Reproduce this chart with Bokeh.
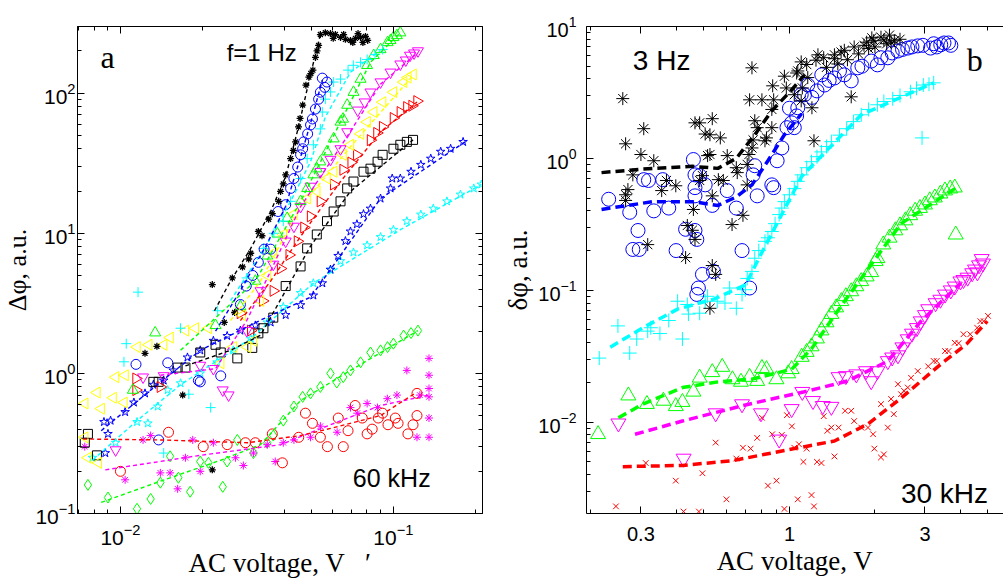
import math
from bokeh.plotting import figure
from bokeh.layouts import row
from bokeh.models import Range1d, FixedTicker, LogAxis, Label, CustomJSTickFormatter
from bokeh.embed import file_html
from bokeh.resources import INLINE

# ======================= PANEL a data (AC voltage V, delta phi a.u.) =======================
a_tick_x = [0.01, 0.1]
a_tick_y = [0.1, 1, 10, 100]

# black asterisks, f = 1 Hz
a_k_v = [0.0123, 0.0136, 0.0169, 0.0217, 0.0217, 0.0240, 0.0262, 0.0257, 0.0280, 0.0295,
         0.0320, 0.0349, 0.0380, 0.0386, 0.0403, 0.0420, 0.0438, 0.0449, 0.0465, 0.0478,
         0.0490, 0.0507, 0.0518, 0.0532, 0.0540, 0.0563, 0.0588, 0.0613, 0.0640, 0.0667,
         0.0696, 0.0726, 0.0758, 0.0790, 0.0805, 0.0602, 0.0657, 0.0710, 0.0742, 0.0773,
         0.0300, 0.0330, 0.0360, 0.0395, 0.0430, 0.0455, 0.0498, 0.0525]
a_k_d = [1.39, 1.56, 0.70, 0.205, 4.3, 2.31, 2.72, 4.8, 5.75, 6.55,
         10.3, 12.6, 16.9, 19.9, 26.1, 34.1, 44.9, 57.4, 82.2, 114,
         130, 146, 180, 219, 262, 270, 266, 262, 250, 242,
         238, 246, 250, 254, 238, 246, 262, 230, 266, 230,
         7.2, 9.6, 13.8, 22.5, 39, 66, 138, 200]
a_k_fit_v = [0.0221, 0.0253, 0.0299, 0.0355, 0.0403, 0.0449, 0.0497, 0.0540]
a_k_fit_d = [2.8, 4.56, 7.7, 14.3, 25.4, 57.4, 136, 262]

# blue circles
a_bo_v = [0.0114, 0.0138, 0.0149, 0.0193, 0.0196, 0.0233, 0.0275, 0.0289, 0.0336, 0.0355,
          0.0378, 0.0403, 0.0420, 0.0432, 0.0446, 0.0457, 0.0465, 0.0469, 0.0485, 0.0497,
          0.0505, 0.0518, 0.0532, 0.0540, 0.0549, 0.0571, 0.0560, 0.0305, 0.0320]
a_bo_d = [1.16, 0.335, 1.19, 0.89, 0.87, 0.96, 3.1, 4.2, 7.7, 7.7,
          14.3, 16.0, 20.9, 24.6, 29.7, 36.3, 40.1, 44.9, 51.2, 59.3,
          65.4, 77, 90.6, 101.6, 128, 120, 110, 5.0, 6.2]
a_bo_fit_v = [0.0223, 0.0275, 0.0341, 0.0403, 0.0457, 0.0505, 0.0549]
a_bo_fit_d = [2.0, 3.9, 8.1, 15.6, 35, 68, 124]

# cyan plus
a_cp_v = [0.0103, 0.0105, 0.0116, 0.0144, 0.0166, 0.0178, 0.0214, 0.0227, 0.0334, 0.0395,
          0.0420, 0.0457, 0.0483, 0.0509, 0.0540, 0.0549, 0.0563, 0.0588, 0.0604, 0.0640,
          0.0682, 0.0713, 0.0758, 0.0801, 0.0856, 0.0913, 0.0290, 0.0365]
a_cp_d = [1.21, 1.63, 3.8, 0.27, 2.1, 0.71, 0.57, 2.8, 7.8, 12.2,
          16.9, 24.6, 34.1, 42.8, 55.6, 73.3, 90.6, 102, 120, 126,
          146, 158, 166, 174, 189, 205, 4.8, 10.0]
a_cp_fit_v = [0.0253, 0.0341, 0.0420, 0.0497, 0.0563, 0.0696, 0.0897]
a_cp_fit_d = [3.3, 8.1, 16.9, 32.4, 67.5, 141, 202]

# green up-triangles
a_gt_v = [0.0111, 0.0134, 0.0223, 0.0275, 0.0312, 0.0345, 0.0376, 0.0408, 0.0457, 0.0483,
          0.0509, 0.0524, 0.0540, 0.0571, 0.0604, 0.0640, 0.0654, 0.0677, 0.0714, 0.0758,
          0.0801, 0.0847, 0.0897, 0.0952, 0.1000, 0.1060, 0.1030, 0.0976]
a_gt_d = [0.76, 1.95, 2.2, 3.0, 4.56, 6.9, 9.9, 12.8, 16.9, 20.9,
          26.2, 28.9, 32.4, 38.2, 47.3, 62.3, 65.4, 82.2, 101.6, 126,
          158, 186, 205, 230, 250, 270, 258, 238]
a_gt_fit_v = [0.0166, 0.0312, 0.0457, 0.0640, 0.0824, 0.1060]
a_gt_fit_d = [1.46, 4.56, 16.9, 62.3, 166, 270]

# magenta down-triangles
a_mt_v = [0.0096, 0.0121, 0.0144, 0.0196, 0.0219, 0.0237, 0.0249, 0.0290, 0.0326, 0.0363,
          0.0403, 0.0432, 0.0457, 0.0497, 0.0540, 0.0588, 0.0640, 0.0677, 0.0740, 0.0785,
          0.0824, 0.0897, 0.0976, 0.1060, 0.1150, 0.1230, 0.1110, 0.1190]
a_mt_d = [0.284, 0.94, 0.96, 1.14, 1.08, 0.76, 0.70, 2.02, 3.88, 6.0,
          8.77, 11.2, 15.5, 21.6, 27.5, 33.6, 40.0, 52.9, 75.5, 86.3,
          101.6, 120, 141, 161, 186, 200, 172, 193]
a_mt_fit_v = [0.0140, 0.0223, 0.0290, 0.0355, 0.0457, 0.0640, 0.0897, 0.1230]
a_mt_fit_d = [0.97, 1.08, 2.38, 5.37, 15.5, 41.4, 116, 195]

# yellow left-triangles
a_yt_v = [0.0074, 0.0076, 0.0074, 0.0082, 0.0083, 0.0085, 0.0094, 0.0103, 0.0096, 0.0104,
          0.0115, 0.0127, 0.0144, 0.0152, 0.0173, 0.0188, 0.0210, 0.0233, 0.0259, 0.0292,
          0.0307, 0.0326, 0.0363, 0.0395, 0.0432, 0.0483, 0.0524, 0.0571, 0.0604, 0.0654,
          0.0696, 0.0758, 0.0801, 0.0847, 0.0913, 0.1000, 0.1090, 0.1180, 0.1130, 0.0345, 0.0280]
a_yt_d = [0.61, 0.25, 0.35, 0.73, 0.23, 0.56, 0.67, 0.62, 0.94, 0.97,
          1.54, 1.6, 1.6, 1.8, 2.02, 2.1, 2.1, 1.18, 1.54, 1.54,
          1.71, 3.29, 7.2, 9.8, 13.7, 17.7, 19.9, 24.6, 27.5, 36.3,
          42.8, 51.2, 62.3, 73.3, 86.3, 101.6, 120, 136, 129, 5.0, 2.6]
a_yt_fit_v = [0.0253, 0.0326, 0.0457, 0.0696, 0.1180]
a_yt_fit_d = [2.38, 4.56, 15.5, 41.4, 134]

# red right-triangles
a_rt_v = [0.0114, 0.0114, 0.0140, 0.0275, 0.0300, 0.0332, 0.0363, 0.0386, 0.0445, 0.0497,
          0.0540, 0.0604, 0.0654, 0.0734, 0.0824, 0.0913, 0.1000, 0.1060, 0.1120, 0.1220,
          0.1170, 0.0415, 0.0470, 0.0700, 0.0870]
a_rt_d = [0.92, 0.76, 0.80, 2.69, 2.02, 3.29, 3.88, 5.6, 8.77, 13.2,
          16.9, 22.3, 28.4, 36.3, 46.2, 57.4, 66.5, 73.3, 79.5, 87.7,
          81.3, 7.0, 11.0, 32, 52]
a_rt_fit_v = [0.0275, 0.0355, 0.0457, 0.0640, 0.0897, 0.1220]
a_rt_fit_d = [2.38, 4.56, 9.5, 23.4, 52.9, 86.3]

# black squares
a_ks_v = [0.0076, 0.0074, 0.0082, 0.0132, 0.0138, 0.0162, 0.0173, 0.0196, 0.0223, 0.0233,
          0.0268, 0.0304, 0.0320, 0.0334, 0.0363, 0.0403, 0.0457, 0.0483, 0.0524, 0.0571,
          0.0604, 0.0640, 0.0677, 0.0714, 0.0777, 0.0824, 0.0875, 0.0913, 0.1000, 0.1060,
          0.1120, 0.1180]
a_ks_d = [0.37, 0.32, 0.26, 0.87, 0.87, 1.1, 1.1, 1.41, 1.6, 1.41,
          1.28, 1.52, 1.93, 2.1, 2.5, 4.2, 5.8, 7.8, 9.8, 12.2,
          14.3, 16.9, 20.9, 23.4, 27.5, 28.9, 32.4, 36.3, 40.1, 42.8,
          44.9, 46.4]
a_ks_fit_v = [0.0173, 0.0253, 0.0326, 0.0403, 0.0497, 0.0696, 0.1180]
a_ks_fit_d = [1.13, 1.46, 1.87, 3.9, 8.1, 19.9, 46.4]

# blue pentagrams
a_bs_v = [0.0088, 0.0087, 0.0090, 0.0092, 0.0104, 0.0112, 0.0123, 0.0132, 0.0144, 0.0156,
          0.0176, 0.0196, 0.0219, 0.0246, 0.0275, 0.0312, 0.0355, 0.0403, 0.0457, 0.0509,
          0.0549, 0.0588, 0.0627, 0.0667, 0.0696, 0.0735, 0.0777, 0.0824, 0.0897, 0.0976,
          0.0990, 0.1060, 0.1160, 0.1260, 0.1370, 0.1490, 0.1620, 0.1800]
a_bs_d = [0.27, 0.45, 0.37, 0.46, 0.53, 0.62, 0.72, 0.83, 0.89, 1.05,
          1.30, 1.46, 1.71, 1.85, 2.02, 2.2, 2.31, 2.61, 3.07, 3.6,
          4.4, 5.5, 6.9, 8.8, 10.3, 11.6, 13.7, 15.0, 17.7, 20.9,
          24.6, 24.6, 27.5, 30.8, 34.1, 38.2, 40.1, 44.9]
a_bs_fit_v = [0.0085, 0.0129, 0.0196, 0.0326, 0.0497, 0.0588, 0.0897, 0.1830]
a_bs_fit_d = [0.39, 0.76, 1.46, 2.4, 3.5, 5.5, 17.7, 44.9]

# cyan hexagrams
a_ch_v = [0.0079, 0.0096, 0.0115, 0.0126, 0.0137, 0.0149, 0.0166, 0.0196, 0.0226, 0.0259,
          0.0300, 0.0345, 0.0395, 0.0457, 0.0509, 0.0588, 0.0640, 0.0714, 0.0801, 0.0897,
          0.1000, 0.1120, 0.1260, 0.1400, 0.1570, 0.1760, 0.1970, 0.2100]
a_ch_d = [0.25, 0.32, 0.45, 0.44, 0.58, 0.76, 0.85, 1.0, 1.2, 1.46,
          1.77, 2.31, 2.98, 3.75, 4.4, 5.5, 6.33, 7.3, 8.2, 9.4,
          10.6, 12.2, 13.6, 15.0, 16.9, 18.9, 20.9, 22.3]
a_ch_fit_v = [0.0079, 0.0115, 0.0166, 0.0300, 0.0509, 0.1060, 0.2100]
a_ch_fit_d = [0.24, 0.46, 0.83, 1.77, 4.4, 10.6, 22.3]

# green diamonds (60 kHz group)
a_gd_v = [0.0076, 0.0090, 0.0115, 0.0129, 0.0140, 0.0152, 0.0163, 0.0180, 0.0196, 0.0210,
          0.0237, 0.0246, 0.0268, 0.0307, 0.0345, 0.0363, 0.0395, 0.0432, 0.0465, 0.0497,
          0.0540, 0.0588, 0.0620, 0.0655, 0.0696, 0.0758, 0.0824, 0.0897, 0.0952, 0.1000,
          0.1090, 0.1160, 0.1230]
a_gd_d = [0.16, 0.13, 0.108, 0.127, 0.166, 0.256, 0.18, 0.143, 0.235, 0.23,
          0.155, 0.235, 0.335, 0.27, 0.32, 0.36, 0.46, 0.58, 0.68, 0.72,
          0.8, 1.0, 0.86, 0.94, 1.05, 1.2, 1.41, 1.46, 1.54, 1.63,
          1.86, 1.94, 2.02]
a_gd_fit_v = [0.0085, 0.0140, 0.0233, 0.0326, 0.0457, 0.0696, 0.1230]
a_gd_fit_d = [0.12, 0.17, 0.24, 0.31, 0.64, 1.05, 2.02]

# magenta asterisks
a_ma_v = [0.0074, 0.0104, 0.0121, 0.0129, 0.0140, 0.0152, 0.0162, 0.0173, 0.0184, 0.0196,
          0.0219, 0.0264, 0.0282, 0.0307, 0.0345, 0.0369, 0.0395, 0.0432, 0.0497, 0.0540,
          0.0622, 0.0696, 0.0737, 0.0801, 0.0874, 0.0950, 0.1030, 0.1120, 0.1220, 0.1250,
          0.1350, 0.1350, 0.1350, 0.1350, 0.1350, 0.1350]
a_ma_d = [0.30, 0.174, 0.335, 0.36, 0.195, 0.195, 0.15, 0.25, 0.335, 0.20,
          0.32, 0.25, 0.22, 0.27, 0.31, 0.235, 0.32, 0.335, 0.35, 0.42,
          0.38, 0.57, 0.52, 0.61, 0.57, 0.66, 0.70, 1.05, 0.35, 0.70,
          1.28, 0.97, 0.78, 0.68, 0.48, 0.35]
a_ma_fit_v = [0.0088, 0.0196, 0.0386, 0.0588, 0.0897, 0.1350]
a_ma_fit_d = [0.205, 0.26, 0.31, 0.43, 0.59, 0.70]

# red circles
a_ro_v = [0.0100, 0.0150, 0.0201, 0.0246, 0.0287, 0.0312, 0.0360, 0.0392, 0.0450, 0.0476,
          0.0505, 0.0540, 0.0573, 0.0628, 0.0655, 0.0682, 0.0724, 0.0769, 0.0801, 0.0836,
          0.0880, 0.0913, 0.0955, 0.1016, 0.1040, 0.1130, 0.1180, 0.1220, 0.1220]
a_ro_d = [0.20, 0.38, 0.30, 0.31, 0.32, 0.32, 0.37, 0.23, 0.35, 0.52,
          0.44, 0.35, 0.30, 0.48, 0.30, 0.39, 0.59, 0.48, 0.37, 0.40,
          0.48, 0.52, 0.43, 0.48, 0.44, 0.37, 0.43, 0.50, 0.72]
a_ro_fit_v = [0.0073, 0.0140, 0.0292, 0.0457, 0.0604, 0.0897, 0.1090, 0.1200]
a_ro_fit_d = [0.34, 0.335, 0.32, 0.36, 0.41, 0.50, 0.64, 0.72]

# ======================= PANEL b data (AC voltage V, delta-phi noise a.u.) =======================
b_tick_x = [0.3, 1, 3]
b_tick_y = [0.01, 0.1, 1, 10]

# black asterisks, 3 Hz
b_ka_v = [0.259, 0.307, 0.265, 0.300, 0.333, 0.270, 0.265, 0.265, 0.317, 0.431,
          0.369, 0.355, 0.398, 0.465, 0.483, 0.535, 0.505, 0.525, 0.571, 0.525,
          0.515, 0.604, 0.562, 0.585, 0.650, 0.655, 0.710, 0.720, 0.738, 0.745,
          0.770, 0.755, 0.820, 0.830, 0.867, 0.867, 0.873, 0.738, 0.724, 0.800,
          0.880, 0.960, 0.975, 1.06, 1.11, 0.710, 0.535, 0.483, 0.494, 0.459,
          0.455, 0.437, 0.465, 0.628, 0.686, 0.535, 0.550, 1.22, 1.65, 1.07,
          1.15, 1.24, 1.32, 1.44, 1.56, 1.69, 1.83, 1.98, 2.15, 2.34,
          1.04, 1.10, 1.20, 1.10, 1.26, 1.44, 1.52, 1.87, 2.10, 2.28,
          0.281, 0.525, 1.35, 1.60, 1.75, 1.90, 2.00, 2.20, 1.48, 1.16,
          2.45, 2.25, 1.95]
b_ka_d = [2.84, 1.68, 1.29, 1.07, 0.96, 0.58, 0.53, 0.48, 0.222, 0.177,
          0.68, 0.57, 0.62, 1.86, 1.86, 2.0, 1.53, 1.51, 1.43, 1.07,
          1.05, 1.05, 0.69, 0.68, 0.85, 0.78, 0.90, 1.07, 1.20, 1.38,
          1.71, 1.93, 1.36, 1.43, 1.71, 2.35, 3.55, 4.86, 2.78, 2.78,
          2.78, 4.2, 3.42, 4.44, 3.42, 0.63, 0.52, 0.68, 0.74, 0.41,
          0.285, 0.31, 0.243, 0.315, 0.37, 0.154, 0.132, 1.36, 2.93, 4.6,
          5.15, 5.55, 5.8, 6.1, 6.6, 7.0, 7.2, 7.8, 7.9, 7.8,
          3.04, 2.73, 2.42, 5.39, 6.1, 5.7, 6.4, 7.6, 8.3, 7.6,
          0.75, 0.073, 4.9, 5.6, 6.2, 6.8, 7.0, 7.4, 5.2, 4.1,
          8.0, 8.6, 8.2]
b_ka_fit_v = [0.218, 0.305, 0.455, 0.560, 0.650, 0.755, 0.867, 1.018, 1.13]
b_ka_fit_d = [0.78, 0.83, 0.87, 0.84, 1.0, 1.51, 2.3, 3.3, 4.3]

# blue circles
b_bo_v = [0.231, 0.274, 0.333, 0.293, 0.281, 0.296, 0.307, 0.319, 0.358, 0.376,
          0.399, 0.431, 0.465, 0.472, 0.459, 0.465, 0.483, 0.465, 0.465, 0.505,
          0.535, 0.604, 0.650, 0.681, 0.755, 0.745, 0.770, 0.867, 0.880, 0.905,
          0.940, 0.980, 1.018, 1.04, 1.07, 0.494, 0.478, 0.472, 0.724, 0.540,
          1.10, 1.13, 1.16, 1.25, 1.30, 1.33, 1.44, 1.56, 1.65, 1.74,
          1.94, 2.04, 2.22, 2.41, 2.61, 2.83, 3.14, 3.41, 3.63, 3.22,
          1.20, 1.38, 1.50, 1.80, 2.10, 2.30, 2.50, 2.70, 2.95, 3.30,
          3.50, 3.70, 1.06, 1.00]
b_bo_d = [0.49, 0.39, 0.40, 0.284, 0.204, 0.204, 0.69, 0.68, 0.69, 0.42,
          0.20, 0.29, 0.284, 0.243, 0.98, 0.75, 0.74, 0.60, 0.52, 0.63,
          0.44, 0.57, 0.42, 0.20, 0.88, 0.75, 0.52, 0.63, 0.60, 0.96,
          1.2, 1.71, 1.86, 1.71, 2.42, 0.132, 0.104, 0.093, 0.104, 0.139,
          3.04, 3.04, 3.6, 3.25, 4.3, 3.6, 4.07, 4.3, 3.87, 4.86,
          5.47, 5.12, 5.79, 6.52, 6.86, 7.13, 6.86, 7.27, 7.5, 7.4,
          2.9, 3.9, 4.6, 5.0, 5.8, 6.3, 6.7, 7.0, 7.2, 7.0,
          7.5, 7.2, 2.1, 2.4]
b_bo_fit_v = [0.218, 0.330, 0.455, 0.560, 0.650, 0.738, 0.840, 0.960, 1.104]
b_bo_fit_d = [0.41, 0.47, 0.47, 0.44, 0.51, 0.63, 0.96, 1.51, 2.18]

# cyan plus
b_cp_v = [0.214, 0.249, 0.274, 0.290, 0.317, 0.325, 0.350, 0.376, 0.420, 0.404,
          0.437, 0.441, 0.483, 0.505, 0.515, 0.557, 0.593, 0.616, 0.650, 0.681,
          0.700, 0.710, 0.738, 0.755, 0.820, 0.867, 0.920, 0.960, 1.04, 1.104,
          1.196, 1.296, 1.405, 1.59, 1.79, 2.04, 2.31, 2.67, 2.96, 3.22,
          2.93, 0.78, 0.84, 0.89, 0.94, 1.00, 1.07, 1.15, 1.25, 1.35,
          1.50, 1.68, 1.90, 2.15, 2.45, 2.80, 3.10]
b_cp_d = [0.0306, 0.0537, 0.0334, 0.0427, 0.049, 0.052, 0.047, 0.059, 0.0427, 0.0826,
          0.078, 0.066, 0.067, 0.0826, 0.09, 0.0826, 0.080, 0.104, 0.073, 0.093,
          0.101, 0.123, 0.139, 0.175, 0.235, 0.279, 0.375, 0.47, 0.59, 0.75,
          0.944, 1.12, 1.34, 1.68, 2.14, 2.55, 2.83, 3.2, 3.6, 3.74,
          1.43, 0.20, 0.25, 0.32, 0.42, 0.53, 0.67, 0.85, 1.03, 1.23,
          1.5, 1.9, 2.35, 2.7, 3.0, 3.4, 3.65]
b_cp_fit_v = [0.234, 0.305, 0.404, 0.545, 0.700, 0.820, 1.104, 1.79, 3.22]
b_cp_fit_d = [0.037, 0.052, 0.072, 0.086, 0.11, 0.215, 0.73, 2.14, 3.74]

# green up-triangles
b_gt_v = [0.212, 0.271, 0.315, 0.360, 0.398, 0.420, 0.459, 0.483, 0.535, 0.580,
          0.630, 0.675, 0.724, 0.770, 0.800, 0.830, 0.900, 0.990, 1.018, 1.104,
          1.196, 1.296, 1.405, 1.523, 1.65, 1.789, 1.94, 2.01, 2.04, 2.14,
          2.36, 2.56, 2.77, 3.0, 3.25, 3.53, 3.82, 3.85, 1.15, 1.25,
          1.35, 1.46, 1.58, 1.72, 1.87, 2.25, 2.45, 2.66, 2.88, 3.12,
          3.40, 3.68]
b_gt_d = [0.0081, 0.0159, 0.0137, 0.0145, 0.0132, 0.0142, 0.0170, 0.0217, 0.0239, 0.0262,
          0.0211, 0.0202, 0.0220, 0.0205, 0.0257, 0.0252, 0.0211, 0.0234, 0.0252, 0.0312,
          0.0375, 0.0495, 0.066, 0.0826, 0.098, 0.117, 0.137, 0.166, 0.175, 0.222,
          0.284, 0.338, 0.40, 0.446, 0.504, 0.57, 0.60, 0.264, 0.034, 0.043,
          0.057, 0.074, 0.09, 0.107, 0.127, 0.25, 0.31, 0.37, 0.42, 0.48,
          0.54, 0.59]
b_gt_fit_v = [0.25, 0.305, 0.42, 0.56, 0.738, 1.018, 1.196, 1.52, 2.47, 3.87]
b_gt_fit_d = [0.0108, 0.0137, 0.0183, 0.0202, 0.0212, 0.0252, 0.036, 0.076, 0.32, 0.6]

# magenta down-triangles
b_mt_v = [0.250, 0.424, 0.550, 0.681, 0.794, 0.920, 1.018, 1.11, 1.21, 1.31,
          1.405, 1.49, 1.58, 1.72, 1.86, 1.94, 2.04, 2.22, 2.41, 2.61,
          2.81, 2.90, 3.08, 3.27, 3.53, 3.82, 4.00, 4.24, 4.50, 4.75,
          4.59, 2.30, 2.50, 2.70, 3.00, 3.40, 3.70, 4.10, 4.40, 4.65, 4.80]
b_mt_d = [0.0098, 0.0053, 0.0117, 0.0137, 0.0117, 0.0074, 0.0126, 0.0170, 0.0145, 0.0133,
          0.0131, 0.0220, 0.0224, 0.0231, 0.0244, 0.0205, 0.0244, 0.0291, 0.0322, 0.0426,
          0.0518, 0.0583, 0.0720, 0.080, 0.093, 0.107, 0.117, 0.125, 0.144, 0.173,
          0.137, 0.031, 0.037, 0.047, 0.065, 0.085, 0.10, 0.12, 0.135, 0.155, 0.16]
b_mt_fit_v = [0.286, 0.42, 0.68, 0.94, 1.13, 1.6, 2.22, 2.9, 4.0]
b_mt_fit_d = [0.0081, 0.0102, 0.0133, 0.0156, 0.017, 0.0205, 0.029, 0.058, 0.113]

# red crosses (x), 30 kHz
b_rx_v = [0.245, 0.312, 0.398, 0.424, 0.480, 0.494, 0.550, 0.600, 0.650, 0.686,
          0.730, 0.770, 0.800, 0.840, 0.870, 0.900, 0.940, 0.980, 0.960, 1.02,
          1.04, 1.08, 1.07, 1.12, 1.15, 1.196, 1.22, 1.25, 1.296, 1.32,
          1.36, 1.405, 1.44, 1.49, 1.57, 1.65, 1.69, 1.79, 1.89, 1.97,
          1.99, 2.10, 2.15, 2.22, 2.10, 2.28, 2.33, 2.41, 2.47, 2.53,
          2.61, 2.68, 2.83, 3.08, 3.22, 3.30, 3.53, 3.63, 3.82, 3.94,
          4.10, 4.33, 4.58, 4.70, 4.83, 5.00]
b_rx_d = [0.0023, 0.0049, 0.0036, 0.0021, 0.0021, 0.0041, 0.0070, 0.0026, 0.0053, 0.0064,
          0.0063, 0.0076, 0.0108, 0.0033, 0.0081, 0.0036, 0.0080, 0.0113, 0.0022, 0.0093,
          0.0064, 0.0068, 0.0026, 0.0050, 0.0063, 0.0028, 0.0023, 0.0050, 0.0049, 0.0111,
          0.0086, 0.0091, 0.0055, 0.0091, 0.0122, 0.0122, 0.0102, 0.0091, 0.0091, 0.0081,
          0.0063, 0.0054, 0.0057, 0.0091, 0.0137, 0.0150, 0.0115, 0.0194, 0.0163, 0.0173,
          0.0183, 0.0217, 0.0244, 0.0265, 0.0291, 0.0291, 0.0346, 0.0346, 0.040, 0.0397,
          0.0464, 0.0464, 0.052, 0.0583, 0.0583, 0.064]
b_rx_fit_v = [0.259, 0.42, 0.63, 0.96, 1.44, 1.89, 2.47, 3.41, 4.2, 4.97]
b_rx_fit_d = [0.0046, 0.0047, 0.0051, 0.0061, 0.0072, 0.0097, 0.0152, 0.0275, 0.0391, 0.0583]

# ======================= styling helpers =======================
K, B, C, G, M, Y, R = "#000000", "#0000FF", "#00FFFF", "#00FF00", "#FF00FF", "#FFFF00", "#FF0000"
SANS = "Liberation Sans"
SERIF = "Liberation Serif"


def minor_between(lo, hi):
    out = []
    e0 = math.floor(math.log10(lo)) - 1
    e1 = math.ceil(math.log10(hi)) + 1
    for e in range(e0, e1):
        for m in range(2, 10):
            v = m * 10.0 ** e
            if lo <= v <= hi:
                out.append(v)
    return out


def style_axis(ax, show_labels=True, label_size="21px"):
    ax.major_tick_in = 7
    ax.major_tick_out = 0
    ax.minor_tick_in = 4
    ax.minor_tick_out = 0
    ax.axis_line_color = "black"
    ax.axis_line_width = 1
    ax.major_tick_line_color = "black"
    ax.minor_tick_line_color = "black"
    ax.major_label_text_font = SANS
    ax.major_label_text_color = "black"
    ax.axis_label_text_font = SERIF
    ax.axis_label_text_font_style = "normal"
    ax.axis_label_text_font_size = "27px"
    ax.axis_label_text_color = "black"
    if show_labels:
        ax.major_label_text_font_size = label_size
    else:
        ax.major_label_text_font_size = "1px"
        ax.major_label_text_alpha = 0
        ax.major_label_standoff = 0


def pts(p, xs, ys, marker, color, size, lw=1.0, angle=0.0):
    p.scatter(xs, ys, marker=marker, size=size, line_color=color, fill_color=None,
              line_width=lw, angle=angle)


def fit(p, xs, ys, color, lw, dash):
    p.line(xs, ys, line_color=color, line_width=lw, line_dash=dash)


def txt(p, x, y, s, font, size):
    p.add_layout(Label(x=x, y=y, text=s, text_font=font, text_font_size=size,
                       text_color="black", text_baseline="alphabetic", text_align="left"))


# ======================= panel a =======================
ax_lo, ax_hi = 0.00696, 0.212
ay_lo, ay_hi = 0.1, 299.0
pa = figure(width=500, height=581, x_axis_type="log", y_axis_type="log",
            x_range=Range1d(ax_lo, ax_hi), y_range=Range1d(ay_lo, ay_hi),
            output_backend="svg", toolbar_location=None,
            min_border_left=77, min_border_right=18, min_border_top=22, min_border_bottom=68)
pa.grid.visible = False
pa.outline_line_color = "black"
pa.background_fill_color = "white"

txa = FixedTicker(ticks=a_tick_x, minor_ticks=minor_between(ax_lo, ax_hi))
tya = FixedTicker(ticks=a_tick_y, minor_ticks=minor_between(ay_lo, ay_hi))
pa.xaxis[0].ticker = txa
pa.yaxis[0].ticker = tya
pa.xaxis[0].axis_label = "AC voltage, V\u00a0\u00a0\u00a0\u2032"
pa.yaxis[0].axis_label = "\u0394\u03c6, a.u."
for ax in pa.xaxis + pa.yaxis:
    style_axis(ax)
    ax.axis_label_standoff = 0
pa.yaxis[0].major_label_standoff = 2
pa.yaxis[0].axis_label_text_font_size = "26px"
pa.xaxis[0].major_label_standoff = 10
top_a = LogAxis(ticker=txa)
right_a = LogAxis(ticker=tya)
style_axis(top_a, show_labels=False)
style_axis(right_a, show_labels=False)
pa.add_layout(top_a, "above")
pa.add_layout(right_a, "right")

DA = "4 3"
LA = 1.4
# 60 kHz / low group
pts(pa, a_gd_v, a_gd_d, "diamond", G, 11)
pts(pa, a_ma_v, a_ma_d, "asterisk", M, 8)
pts(pa, a_ro_v, a_ro_d, "circle", R, 10)
# 1 Hz and other top group
pts(pa, a_ch_v, a_ch_d, "star", C, 9)
pts(pa, a_bs_v, a_bs_d, "star", B, 9)
pts(pa, a_ks_v, a_ks_d, "square", K, 9)
pts(pa, a_rt_v, a_rt_d, "triangle", R, 11, angle=-math.pi / 2)
pts(pa, a_yt_v, a_yt_d, "triangle", Y, 11, angle=math.pi / 2)
pts(pa, a_mt_v, a_mt_d, "inverted_triangle", M, 11)
pts(pa, a_gt_v, a_gt_d, "triangle", G, 11)
pts(pa, a_cp_v, a_cp_d, "cross", C, 10)
pts(pa, a_bo_v, a_bo_d, "circle", B, 10)
pts(pa, a_k_v, a_k_d, "asterisk", K, 7, lw=1.3)

fit(pa, a_gd_fit_v, a_gd_fit_d, G, LA, DA)
fit(pa, a_ma_fit_v, a_ma_fit_d, M, LA, DA)
fit(pa, a_ro_fit_v, a_ro_fit_d, R, LA, DA)
fit(pa, a_ch_fit_v, a_ch_fit_d, C, LA, DA)
fit(pa, a_bs_fit_v, a_bs_fit_d, B, LA, DA)
fit(pa, a_ks_fit_v, a_ks_fit_d, K, LA, DA)
fit(pa, a_rt_fit_v, a_rt_fit_d, R, LA, DA)
fit(pa, a_yt_fit_v, a_yt_fit_d, Y, LA, DA)
fit(pa, a_mt_fit_v, a_mt_fit_d, M, LA, DA)
fit(pa, a_gt_fit_v, a_gt_fit_d, G, LA, DA)
fit(pa, a_cp_fit_v, a_cp_fit_d, C, LA, DA)
fit(pa, a_bo_fit_v, a_bo_fit_d, B, LA, DA)
fit(pa, a_k_fit_v, a_k_fit_d, K, LA, DA)

txt(pa, 0.00845, 180, "a", SERIF, "32px")
txt(pa, 0.0245, 196, "f=1 Hz", SANS, "24px")
txt(pa, 0.0710, 0.180, "60 kHz", SANS, "25px")

# ======================= panel b =======================
bx_lo, bx_hi = 0.193, 5.67
by_lo, by_hi = 0.00203, 10.0
pb = figure(width=503, height=581, x_axis_type="log", y_axis_type="log",
            x_range=Range1d(bx_lo, bx_hi), y_range=Range1d(by_lo, by_hi),
            output_backend="svg", toolbar_location=None,
            min_border_left=83, min_border_right=0, min_border_top=26, min_border_bottom=68)
pb.grid.visible = False
pb.outline_line_color = None
pb.background_fill_color = "white"

txb = FixedTicker(ticks=b_tick_x, minor_ticks=minor_between(bx_lo, bx_hi))
tyb = FixedTicker(ticks=b_tick_y, minor_ticks=minor_between(by_lo, by_hi))
pb.xaxis[0].ticker = txb
pb.yaxis[0].ticker = tyb
pb.xaxis[0].formatter = CustomJSTickFormatter(code="return String(tick);")
pb.xaxis[0].axis_label = "AC voltage, V"
pb.yaxis[0].axis_label = "\u03b4\u03c6, a.u."
for ax in pb.xaxis + pb.yaxis:
    style_axis(ax, label_size="20px")
    ax.axis_label_standoff = 2
pb.xaxis[0].major_label_standoff = 13
pb.yaxis[0].major_label_standoff = 10
top_b = LogAxis(ticker=txb)
style_axis(top_b, show_labels=False)
pb.add_layout(top_b, "above")

DB = "9 5"
LB = 3.5
pts(pb, b_rx_v, b_rx_d, "x", R, 8)
pts(pb, b_mt_v, b_mt_d, "inverted_triangle", M, 15)
pts(pb, b_gt_v, b_gt_d, "triangle", G, 15)
pts(pb, b_cp_v, b_cp_d, "cross", C, 14)
pts(pb, b_bo_v, b_bo_d, "circle", B, 14)
pts(pb, b_ka_v, b_ka_d, "asterisk", K, 13)

fit(pb, b_rx_fit_v, b_rx_fit_d, R, LB, DB)
fit(pb, b_mt_fit_v, b_mt_fit_d, M, LB, DB)
fit(pb, b_gt_fit_v, b_gt_fit_d, G, LB, DB)
fit(pb, b_cp_fit_v, b_cp_fit_d, C, LB, DB)
fit(pb, b_bo_fit_v, b_bo_fit_d, B, LB, DB)
fit(pb, b_ka_fit_v, b_ka_fit_d, K, LB, DB)

txt(pb, 0.281, 5.5, "3 Hz", SANS, "28px")
txt(pb, 4.21, 5.6, "b", SERIF, "32px")
txt(pb, 2.468, 0.0029, "30 kHz", SANS, "28px")

layout = row(pa, pb)
open("out.html", "w").write(file_html(layout, INLINE))
